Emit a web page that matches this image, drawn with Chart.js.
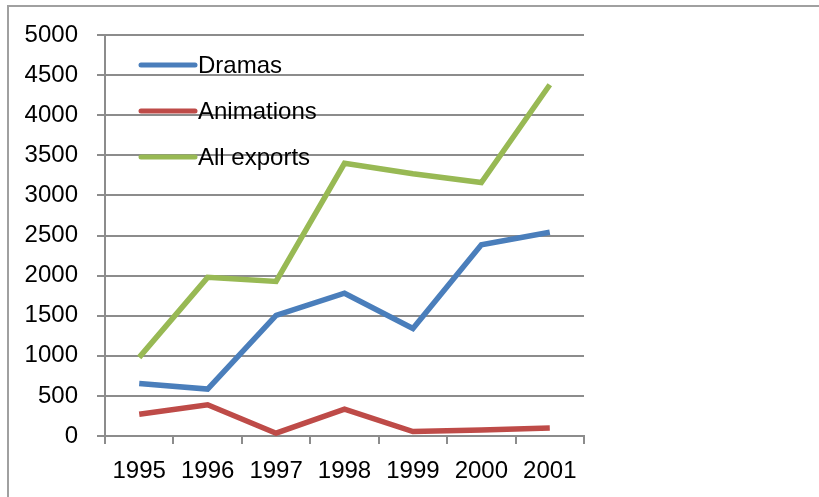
<!DOCTYPE html>
<html>
<head>
<meta charset="utf-8">
<script src="https://cdn.jsdelivr.net/npm/chart.js@4"></script>
<style>
  html, body { margin: 0; padding: 0; background: #fff; overflow: hidden; }
  #frame { position: absolute; left: 7px; top: 5px; width: 900px; height: 600px; border: 2px solid #a0a0a0; }
  #grafico { position: absolute; left: 0; top: 0; }
</style>
</head>
<body>
<div id="frame"></div>
<canvas id="grafico" width="819" height="497"></canvas>
<script>
const years = ['1995', '1996', '1997', '1998', '1999', '2000', '2001'];
const dramas = [655, 585, 1505, 1780, 1340, 2385, 2540];
const animations = [272, 390, 35, 336, 55, 75, 100];
const allExports = [980, 1978, 1928, 3400, 3270, 3160, 4380];
const yTicks = [0, 500, 1000, 1500, 2000, 2500, 3000, 3500, 4000, 4500, 5000];

const fuente = { family: '"Liberation Sans", Arial, sans-serif', size: 24 };
const gris = '#8c8c8c';

// legend drawn inside the plot area, top left
const leyendaInterna = {
    id: 'leyendaInterna',
    afterDraw(chart) {
        const ctx = chart.ctx;
        const area = chart.chartArea;
        ctx.save();
        ctx.font = `${fuente.size}px ${fuente.family}`;
        ctx.textBaseline = 'middle';
        chart.data.datasets.forEach((ds, i) => {
            const y = area.top + 30 + i * 46;
            const x = area.left + 36;
            ctx.strokeStyle = ds.borderColor;
            ctx.lineWidth = 5;
            ctx.lineCap = 'round';
            ctx.beginPath();
            ctx.moveTo(x, y);
            ctx.lineTo(x + 54, y);
            ctx.stroke();
            ctx.fillStyle = '#000';
            ctx.fillText(ds.label, x + 57, y + 1);
        });
        ctx.restore();
    }
};

const ctx = document.getElementById('grafico').getContext('2d');
new Chart(ctx, {
    type: 'line',
    data: {
        labels: years,
        datasets: [{
            label: 'Dramas',
            data: dramas,
            borderColor: '#4a7ebb',
            borderWidth: 5.5,
            pointRadius: 0,
            tension: 0
        }, {
            label: 'Animations',
            data: animations,
            borderColor: '#be4b48',
            borderWidth: 5.5,
            pointRadius: 0,
            tension: 0
        }, {
            label: 'All exports',
            data: allExports,
            borderColor: '#98b954',
            borderWidth: 5.5,
            pointRadius: 0,
            tension: 0
        }]
    },
    options: {
        responsive: false,
        animation: false,
        events: [],
        layout: { padding: { left: 0, right: 235, top: 35, bottom: 0 } },
        plugins: {
            legend: { display: false },
            tooltip: { enabled: false }
        },
        scales: {
            x: {
                offset: true,
                grid: {
                    offset: true,
                    drawOnChartArea: false,
                    color: gris,
                    lineWidth: 2,
                    tickLength: 8
                },
                border: { color: gris, width: 2 },
                ticks: { color: '#000', font: fuente, padding: 13, maxRotation: 0, autoSkip: false },
                afterFit(scale) { scale.height = 61; }
            },
            y: {
                min: 0,
                max: 5000,
                afterBuildTicks(scale) { scale.ticks = yTicks.map(v => ({ value: v })); },
                grid: { color: gris, lineWidth: 2, tickLength: 8 },
                border: { color: gris, width: 2 },
                ticks: { color: '#000', font: fuente, padding: 19, callback: v => String(v) },
                afterFit(scale) { scale.width = 105; }
            }
        }
    },
    plugins: [leyendaInterna]
});
</script>
</body>
</html>
